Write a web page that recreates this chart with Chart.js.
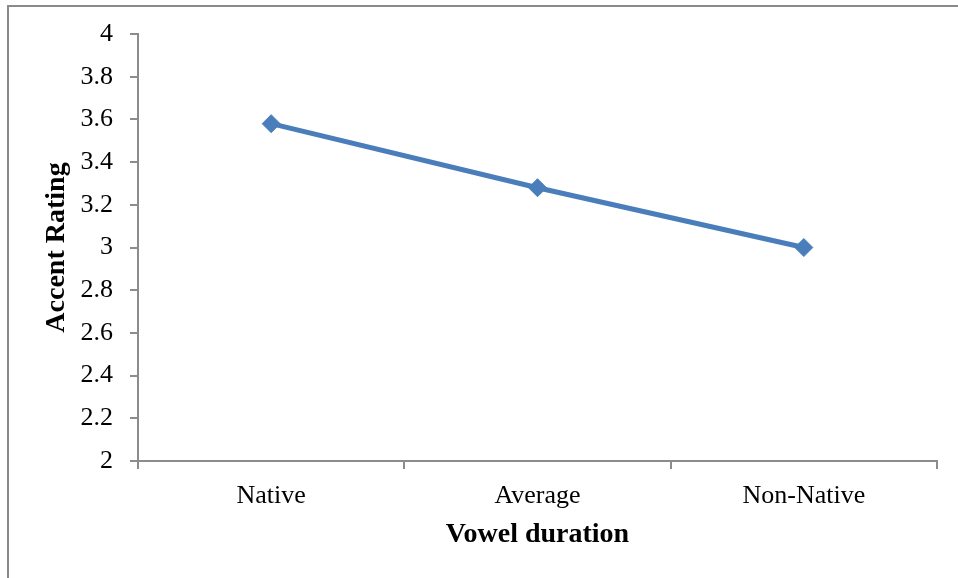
<!DOCTYPE html>
<html>
<head>
<meta charset="utf-8">
<script src="https://cdn.jsdelivr.net/npm/chart.js@4/dist/chart.umd.min.js"></script>
<style>
html,body{margin:0;padding:0;background:#fff;}
#wrap{position:relative;width:958px;height:578px;}
</style>
</head>
<body>
<div id="wrap"><canvas id="c" width="958" height="578"></canvas></div>
<script>
const categories = ["Native", "Average", "Non-Native"];
const accentRating = [3.58, 3.28, 3.0];
const yMin = 2, yMax = 4, yStep = 0.2;
const xTitle = "Vowel duration";
const yTitle = "Accent Rating";

const FONT = "'Liberation Serif', 'Times New Roman', serif";
const AXIS = "#8c8c8c";
const BLUE = "#4a7ebb";

const framePlugin = {
  id: 'frame',
  afterDraw(chart) {
    const ctx = chart.ctx;
    ctx.save();
    ctx.strokeStyle = '#8a8a8a';
    ctx.lineWidth = 2;
    ctx.beginPath();
    ctx.moveTo(8, 578);
    ctx.lineTo(8, 6);
    ctx.lineTo(958, 6);
    ctx.stroke();
    ctx.restore();
  }
};

new Chart(document.getElementById('c'), {
  type: 'line',
  data: {
    labels: categories,
    datasets: [{
      data: accentRating,
      borderColor: BLUE,
      backgroundColor: BLUE,
      borderWidth: 5,
      pointStyle: 'rectRot',
      pointRadius: 9,
      pointBorderWidth: 1,
      pointBackgroundColor: BLUE,
      pointBorderColor: BLUE,
      tension: 0
    }]
  },
  plugins: [framePlugin],
  options: {
    responsive: false,
    animation: false,
    devicePixelRatio: 1,
    layout: { padding: { left: 0, top: 34, right: 21, bottom: 0 } },
    plugins: { legend: { display: false }, tooltip: { enabled: false } },
    scales: {
      x: {
        type: 'category',
        offset: true,
        afterFit(s) { s.height = 117; },
        grid: { display: true, offset: true, drawOnChartArea: false, drawTicks: true, tickLength: 8, color: AXIS, lineWidth: 2 },
        border: { display: true, color: AXIS, width: 2 },
        ticks: { color: '#000', font: { family: FONT, size: 26 }, padding: 12, maxRotation: 0 },
        title: { display: true, text: xTitle, color: '#000', font: { family: FONT, size: 28, weight: 'bold' }, padding: { top: 0, bottom: 26 } }
      },
      y: {
        min: yMin, max: yMax,
        afterFit(s) { s.width = 138; },
        grid: { display: true, drawOnChartArea: false, drawTicks: true, tickLength: 8, color: AXIS, lineWidth: 2 },
        border: { display: true, color: AXIS, width: 2 },
        ticks: { stepSize: yStep, color: '#000', font: { family: FONT, size: 26 }, padding: 17,
          callback: v => Math.round(v * 10) / 10 + '' },
        title: { display: true, text: yTitle, color: '#000', font: { family: FONT, size: 28, weight: 'bold' }, padding: { top: 40, bottom: 0 } }
      }
    }
  }
});
</script>
</body>
</html>
